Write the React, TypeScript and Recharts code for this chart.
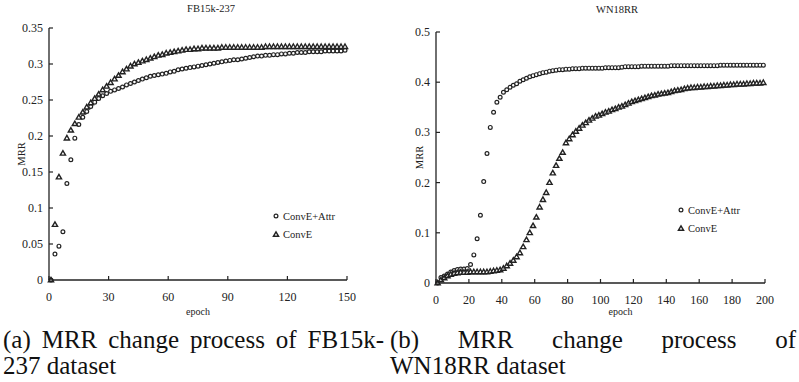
import { Legend, Scatter, ScatterChart, XAxis, YAxis } from "recharts";

const FONT = "'Liberation Serif', 'Times New Roman', Tinos, 'DejaVu Serif', serif";
const INK = "#222";

const SERIES_NAMES = ["ConvE+Attr", "ConvE"];

// FB15k-237: one marker every second epoch (1, 3, ..., 149)
const FB_EPOCHS = Array.from({ length: 75 }, (_, i) => 2 * i + 1);
const FB_ATTR = [
  0, 0.036, 0.047, 0.067, 0.134, 0.167, 0.197, 0.216, 0.226, 0.234,
  0.241, 0.247, 0.252, 0.256, 0.259, 0.262, 0.264, 0.266, 0.268, 0.271,
  0.273, 0.275, 0.277, 0.279, 0.281, 0.283, 0.284, 0.285, 0.286, 0.287,
  0.289, 0.29, 0.292, 0.293, 0.294, 0.295, 0.296, 0.297, 0.298, 0.299,
  0.3, 0.301, 0.302, 0.303, 0.304, 0.305, 0.306, 0.306, 0.307, 0.308,
  0.309, 0.31, 0.311, 0.311, 0.312, 0.312, 0.313, 0.313, 0.314, 0.314,
  0.315, 0.315, 0.316, 0.316, 0.316, 0.317, 0.317, 0.317, 0.317, 0.318,
  0.318, 0.318, 0.318, 0.318, 0.319,
];
const FB_CONVE = [
  0, 0.077, 0.143, 0.176, 0.197, 0.208, 0.217, 0.226, 0.233, 0.24,
  0.246, 0.252, 0.258, 0.264, 0.269, 0.274, 0.279, 0.284, 0.289, 0.293,
  0.297, 0.3, 0.302, 0.304, 0.306, 0.308, 0.31, 0.312, 0.313, 0.315,
  0.316, 0.317, 0.318, 0.319, 0.32, 0.32, 0.321, 0.321, 0.322, 0.322,
  0.322, 0.322, 0.322, 0.323, 0.323, 0.323, 0.323, 0.323, 0.323, 0.323,
  0.323, 0.323, 0.323, 0.323, 0.324, 0.324, 0.324, 0.324, 0.324, 0.324,
  0.324, 0.324, 0.324, 0.324, 0.324, 0.324, 0.324, 0.324, 0.324, 0.324,
  0.324, 0.324, 0.324, 0.324, 0.324,
];
const FB_X_TICKS = [0, 30, 60, 90, 120, 150];
const FB_Y_TICKS = [0, 0.05, 0.1, 0.15, 0.2, 0.25, 0.3, 0.35];

// WN18RR: one marker every second epoch (1, 3, ..., 199)
const WN_EPOCHS = Array.from({ length: 100 }, (_, i) => 2 * i + 1);
const WN_ATTR = [
  0, 0.011, 0.014, 0.018, 0.022, 0.025, 0.027, 0.028, 0.028, 0.029,
  0.037, 0.056, 0.088, 0.135, 0.202, 0.258, 0.31, 0.34, 0.36, 0.37,
  0.38, 0.385, 0.39, 0.394, 0.397, 0.402, 0.405, 0.408, 0.411, 0.413,
  0.415, 0.417, 0.419, 0.42, 0.422, 0.423, 0.424, 0.425, 0.425, 0.426,
  0.426, 0.427, 0.427, 0.427, 0.428, 0.428, 0.428, 0.428, 0.428, 0.428,
  0.428, 0.429, 0.429, 0.429, 0.429, 0.429, 0.43, 0.431, 0.431, 0.431,
  0.431, 0.431, 0.432, 0.432, 0.432, 0.432, 0.432, 0.432, 0.432, 0.432,
  0.432, 0.433, 0.433, 0.433, 0.433, 0.433, 0.433, 0.433, 0.433, 0.433,
  0.433, 0.433, 0.433, 0.433, 0.433, 0.433, 0.434, 0.434, 0.434, 0.434,
  0.434, 0.434, 0.434, 0.434, 0.434, 0.434, 0.434, 0.434, 0.434, 0.434,
];
const WN_CONVE = [
  0, 0.006, 0.01, 0.014, 0.017, 0.019, 0.02, 0.021, 0.021, 0.021,
  0.022, 0.022, 0.022, 0.022, 0.022, 0.022, 0.023, 0.024, 0.025, 0.026,
  0.029, 0.034, 0.039, 0.045, 0.052, 0.06, 0.072, 0.086, 0.1, 0.114,
  0.131, 0.151, 0.166, 0.18, 0.2, 0.219, 0.234, 0.248, 0.26, 0.279,
  0.287, 0.295, 0.302, 0.308, 0.314, 0.319, 0.324, 0.328, 0.332, 0.334,
  0.337, 0.34, 0.342, 0.345, 0.347, 0.35, 0.352, 0.355, 0.358, 0.361,
  0.363, 0.365, 0.367, 0.369, 0.371, 0.373, 0.374, 0.376, 0.377, 0.378,
  0.379, 0.381, 0.383, 0.384, 0.385, 0.387, 0.388, 0.389, 0.389, 0.39,
  0.39, 0.391, 0.391, 0.392, 0.392, 0.393, 0.393, 0.394, 0.394, 0.395,
  0.395, 0.396, 0.396, 0.396, 0.397, 0.397, 0.398, 0.398, 0.398, 0.399,
];
const WN_X_TICKS = [0, 20, 40, 60, 80, 100, 120, 140, 160, 180, 200];
const WN_Y_TICKS = [0, 0.1, 0.2, 0.3, 0.4, 0.5];

function Ring(props: any) {
  const { cx, cy } = props;
  if (cx == null || cy == null) return null;
  return <circle cx={cx} cy={cy} r={1.9} fill="#fff" stroke={INK} strokeWidth={1.2} />;
}

function Tri(props: any) {
  const { cx, cy } = props;
  if (cx == null || cy == null) return null;
  return (
    <path
      d={`M${cx},${cy - 2.7}L${cx + 2.6},${cy + 1.8}L${cx - 2.6},${cy + 1.8}Z`}
      fill="#fff"
      stroke={INK}
      strokeWidth={1.4}
    />
  );
}

// ticks point inward, labels sit below / left of the axis line
function XTick({ x, y, payload }: any) {
  return (
    <g>
      <line x1={x} y1={y} x2={x} y2={y - 4} stroke={INK} strokeWidth={1.2} />
      <text x={x} y={y + 21} textAnchor="middle" fontSize={12} fontFamily={FONT} fill={INK}>
        {payload.value}
      </text>
    </g>
  );
}

function YTick({ x, y, payload }: any) {
  return (
    <g>
      <line x1={x} y1={y} x2={x + 4} y2={y} stroke={INK} strokeWidth={1.2} />
      <text x={x - 6} y={y + 4} textAnchor="end" fontSize={12} fontFamily={FONT} fill={INK}>
        {payload.value}
      </text>
    </g>
  );
}

function LegendBox() {
  return (
    <div style={{ fontFamily: FONT, fontSize: 10.5, color: INK }}>
      {SERIES_NAMES.map((name, i) => (
        <div key={name} style={{ display: "flex", alignItems: "center", height: 18 }}>
          <svg width={8} height={8} style={{ marginRight: 3 }}>
            {i === 0 ? <Ring cx={4} cy={4} /> : <Tri cx={4} cy={4.5} />}
          </svg>
          <span>{name}</span>
        </div>
      ))}
    </div>
  );
}

type PanelProps = {
  width: number;
  height: number;
  margin: { top: number; right: number; bottom: number; left: number };
  yAxisWidth: number;
  epochs: number[];
  attr: number[];
  conve: number[];
  xTicks: number[];
  yTicks: number[];
  mrrOffset: number;
  epochOffset: number;
  epochDx: number;
  legendLeft: number;
  legendTop: number;
};

function Panel(p: PanelProps) {
  const attrData = p.epochs.map((epoch, i) => ({ epoch, mrr: p.attr[i] }));
  const conveData = p.epochs.map((epoch, i) => ({ epoch, mrr: p.conve[i] }));
  const xMax = p.xTicks[p.xTicks.length - 1];
  const yMax = p.yTicks[p.yTicks.length - 1];
  return (
    <ScatterChart width={p.width} height={p.height} margin={p.margin}>
      <XAxis
        type="number"
        dataKey="epoch"
        domain={[0, xMax]}
        ticks={p.xTicks}
        height={36}
        tickSize={0}
        tickMargin={0}
        tickLine={false}
        tick={<XTick />}
        axisLine={{ stroke: INK, strokeWidth: 1.3 }}
        label={{
          value: "epoch",
          position: "insideBottom",
          offset: p.epochOffset,
          dx: p.epochDx,
          fontSize: 10,
          fontFamily: FONT,
          fill: INK,
        }}
      />
      <YAxis
        type="number"
        dataKey="mrr"
        domain={[0, yMax]}
        ticks={p.yTicks}
        width={p.yAxisWidth}
        tickSize={0}
        tickMargin={0}
        tickLine={false}
        tick={<YTick />}
        axisLine={{ stroke: INK, strokeWidth: 1.3 }}
        label={{
          value: "MRR",
          angle: -90,
          position: "insideLeft",
          offset: p.mrrOffset,
          fontSize: 10.5,
          fontFamily: FONT,
          fill: INK,
          style: { textAnchor: "middle" },
        }}
      />
      <Legend
        layout="vertical"
        align="center"
        verticalAlign="middle"
        content={() => <LegendBox />}
        wrapperStyle={{ left: p.legendLeft, top: p.legendTop, width: "auto" }}
      />
      <Scatter name={SERIES_NAMES[0]} data={attrData} shape={<Ring />} isAnimationActive={false} />
      <Scatter name={SERIES_NAMES[1]} data={conveData} shape={<Tri />} isAnimationActive={false} />
    </ScatterChart>
  );
}

const captionStyle = {
  position: "absolute" as const,
  top: 327,
  fontFamily: FONT,
  fontSize: 25,
  lineHeight: "26px",
  color: "#111",
};

export default function App() {
  return (
    <div
      style={{
        position: "absolute",
        left: 0,
        top: 0,
        width: 799,
        height: 382,
        background: "#fff",
        overflow: "hidden",
      }}
    >
      <div
        style={{
          position: "absolute",
          left: 161,
          top: 3,
          width: 100,
          textAlign: "center",
          fontFamily: FONT,
          fontSize: 10.5,
          lineHeight: "12px",
          color: INK,
        }}
      >
        FB15k-237
      </div>
      <div
        style={{
          position: "absolute",
          left: 567,
          top: 4,
          width: 100,
          textAlign: "center",
          fontFamily: FONT,
          fontSize: 10.5,
          lineHeight: "12px",
          color: INK,
        }}
      >
        WN18RR
      </div>

      <div style={{ position: "absolute", left: 0, top: 0 }}>
        <Panel
          width={400}
          height={320}
          margin={{ top: 28, right: 53, bottom: 4, left: 0 }}
          yAxisWidth={49}
          epochs={FB_EPOCHS}
          attr={FB_ATTR}
          conve={FB_CONVE}
          xTicks={FB_X_TICKS}
          yTicks={FB_Y_TICKS}
          mrrOffset={21}
          epochOffset={1}
          epochDx={0}
          legendLeft={272}
          legendTop={207}
        />
      </div>
      <div style={{ position: "absolute", left: 390, top: 0 }}>
        <Panel
          width={409}
          height={320}
          margin={{ top: 32, right: 34, bottom: 1, left: 0 }}
          yAxisWidth={46}
          epochs={WN_EPOCHS}
          attr={WN_ATTR}
          conve={WN_CONVE}
          xTicks={WN_X_TICKS}
          yTicks={WN_Y_TICKS}
          mrrOffset={29}
          epochOffset={4}
          epochDx={20}
          legendLeft={287}
          legendTop={201}
        />
      </div>

      <div style={{ ...captionStyle, left: 3, width: 381 }}>
        <div style={{ textAlign: "justify", textAlignLast: "justify", whiteSpace: "nowrap" }}>
          (a) MRR change process of FB15k-
        </div>
        <div>237 dataset</div>
      </div>
      <div style={{ ...captionStyle, left: 390, width: 406 }}>
        <div style={{ textAlign: "justify", textAlignLast: "justify" }}>
          (b) MRR change process of
        </div>
        <div>WN18RR dataset</div>
      </div>
    </div>
  );
}
